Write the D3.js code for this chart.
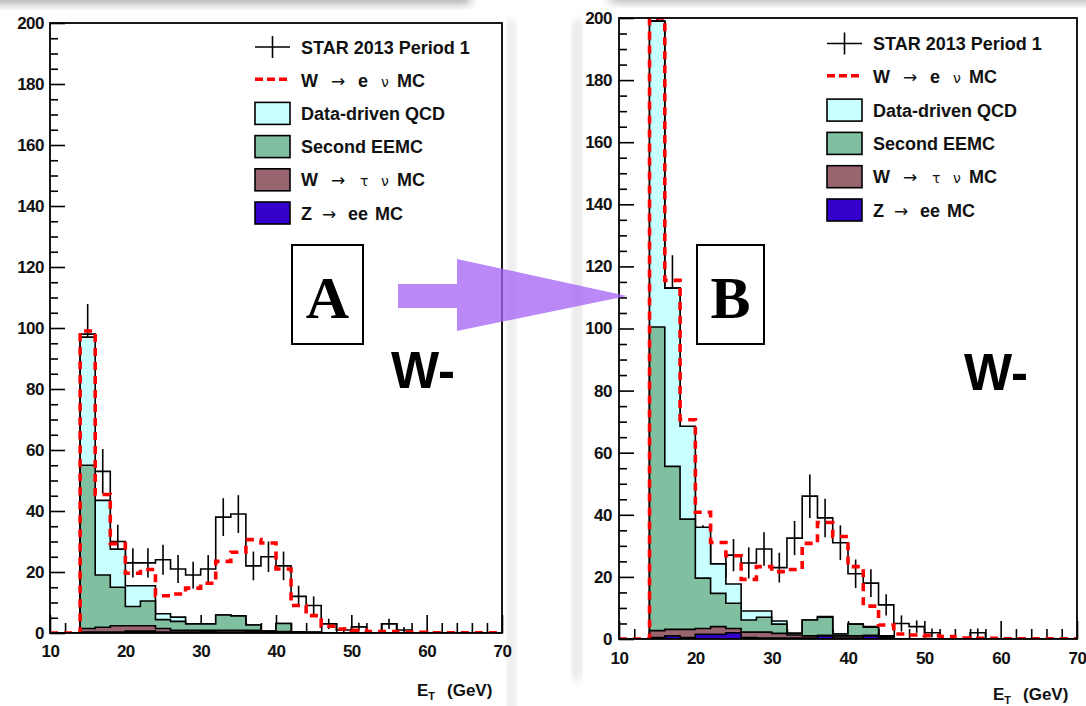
<!DOCTYPE html>
<html>
<head>
<meta charset="utf-8">
<script src="https://cdn.jsdelivr.net/npm/d3@7/dist/d3.min.js"></script>
<style>
  html, body { margin: 0; padding: 0; background: #ffffff; }
  svg { display: block; }
  text { font-family: "Liberation Sans", Arial, Helvetica, sans-serif; }
</style>
</head>
<body>
<svg id="fig" width="1086" height="706"></svg>
<script>
// ---------------------------------------------------------------------------
// Binning: 2 GeV bins from 10 to 70 GeV (lower edges)
const binLow = [10,12,14,16,18,20,22,24,26,28,30,32,34,36,38,40,42,44,46,48,50,52,54,56,58,60,62,64,66,68];
const binWidth = 2;

const xMajorTicks = [10,20,30,40,50,60,70];
const xMinorTicks = [12,14,16,18,22,24,26,28,32,34,36,38,42,44,46,48,52,54,56,58,62,64,66,68];
const yMajorTicks = [0,20,40,60,80,100,120,140,160,180,200];
const yMinorTicks = [5,10,15,25,30,35,45,50,55,65,70,75,85,90,95,105,110,115,125,130,135,145,150,155,165,170,175,185,190,195];

const legendNames = ["STAR 2013 Period 1", "W → e ν MC", "Data-driven QCD", "Second EEMC", "W → τ ν MC", "Z → ee MC"];
const panelTags = ["A", "B"];
const chargeLabel = "W-";

// ---------------------------------------------------------------------------
// Panel A : events per bin
const dataA    = [0,0,98,53,30,23,23,24,21,19,21,38,39,22,25,22,12,9,3,1,2,0,3,1,0,0,0,0,0,0];
const dataErrA = [0,0,9.9,7.3,5.5,4.8,4.8,4.9,4.6,4.4,4.6,6.2,6.2,4.7,5,4.7,3.5,3,1.7,1,1.4,0,1.7,1,0,0,0,0,0,0];
const zeeA     = [0,0,0.3,0.3,0.3,0.6,0.6,0.3,0.3,0.3,0.6,0.3,0.3,0.6,0.3,0.3,0.2,0,0,0,0,0,0,0,0,0,0,0,0,0];
const wtauA    = [0,0,1.2,1.6,2.1,1.8,1.8,1.2,0.6,0.6,0.3,0.6,0.6,0.3,0.2,0.2,0.1,0.2,0.1,0,0,0,0,0,0,0,0,0,0,0];
const eemcA    = [0,0,53.5,17.1,12.6,6.3,8.1,2.9,2.9,2.1,2.1,5.0,4.7,1.7,0.1,2.6,0,0,0,0,0,0,0,0,0,0,0,0,0,0];
const qcdA     = [0,0,42,24.5,12.5,6.8,5,1.9,1.4,0,0,0,0,0,0,0,0,0,0,0,0,0,0,0,0,0,0,0,0,0];
const wenuA    = [0,0,2,1.9,1.8,4.1,5.3,5.9,7.6,11.7,13.3,17.6,20.9,28,28.9,17.9,8.7,5.5,2.1,1.3,0.9,0.5,0.5,0.3,0.2,0.1,0.1,0.1,0.1,0.1];

// Panel B : events per bin
const dataB    = [0,0,199,113,60,31,20,27,24.5,29,23,32.5,46,39,31,21,18,11,5,4,2,0,0,2,0,0,0,0,0,0];
const dataErrB = [0,0,14,10.6,7.7,5.6,4.5,5.2,5,5.4,4.8,5.5,7,6.2,5.6,4.6,4.5,3.4,2.6,2,1.4,0,0,1.4,0,0,0,0,0,0];
const zeeB     = [0,0,0.5,1,0.5,1.5,1.5,2,0.5,0.3,0.3,0.3,0.3,1,0.3,0.3,1,0.3,0,0,0,0,0,0,0,0,0,0,0,0];
const wtauB    = [0,0,2.2,2.1,2.6,1.9,2.5,1.4,1.7,1.9,1.5,1.0,0.7,0.2,0.7,0.7,0.2,0,0,0,0,0,0,0,0,0,0,0,0,0];
const eemcB    = [0,0,97.8,52.5,35.5,16.2,10.7,8.1,3.9,4.8,3.0,0.5,5.1,5.8,0.6,3.8,2.6,0.5,0,0,0,0,0,0,0,0,0,0,0,0];
const qcdB     = [0,0,98.5,57.4,29.9,16.4,9.5,6.2,2.9,2.0,1.0,0,0,0.2,0,0,0.2,0.2,0,0,0,0,0,0,0,0,0,0,0,0];
const wenuB    = [0,0,1,2.5,2.1,4.8,6.9,9.1,10.2,14.3,15.9,20.6,24.7,30.3,31.4,18.5,6.6,3.5,1.6,1.3,1.1,0.8,0.3,0.2,0.2,0.1,0.1,0.1,0.1,0.1];

// ---------------------------------------------------------------------------
const colors = {
  qcd:  "#c8ffff",
  eemc: "#80c0a0",
  wtau: "#996670",
  zee:  "#3300cc",
  wenu: "#ff0000",
  arrow: "rgb(164,96,245)"
};

const svg = d3.select("#fig");
const defs = svg.append("defs");

// soft shadows of the slide cards
const blur = defs.append("filter").attr("id", "soft").attr("x", "-50%").attr("y", "-50%").attr("width", "200%").attr("height", "200%");
blur.append("feGaussianBlur").attr("stdDeviation", 5);

const shadows = svg.append("g").attr("class", "shadows");
shadows.append("rect").attr("x", -20).attr("y", -8).attr("width", 490).attr("height", 12)
  .attr("fill", "#6a6a6a").attr("opacity", 0.55).attr("filter", "url(#soft)");
shadows.append("rect").attr("x", 610).attr("y", -9).attr("width", 500).attr("height", 11)
  .attr("fill", "#6a6a6a").attr("opacity", 0.55).attr("filter", "url(#soft)");
shadows.append("rect").attr("x", 509).attr("y", 20).attr("width", 5).attr("height", 700)
  .attr("fill", "#8a8a8a").attr("opacity", 0.35).attr("filter", "url(#soft)");
shadows.append("rect").attr("x", 574).attr("y", 20).attr("width", 6).attr("height", 660)
  .attr("fill", "#8a8a8a").attr("opacity", 0.35).attr("filter", "url(#soft)");

// ---------------------------------------------------------------------------
function drawPanel(cfg) {
  const x = d3.scaleLinear().domain([10, 70]).range([cfg.left, cfg.right]);
  const y = d3.scaleLinear().domain([0, 200]).range([cfg.bottom, cfg.top]);
  const g = svg.append("g");

  const clipId = "clip" + cfg.tag;
  defs.append("clipPath").attr("id", clipId).append("rect")
    .attr("x", cfg.left).attr("y", cfg.top)
    .attr("width", cfg.right - cfg.left).attr("height", cfg.bottom - cfg.top);

  // white plot area
  g.append("rect").attr("x", cfg.left).attr("y", cfg.top)
    .attr("width", cfg.right - cfg.left).attr("height", cfg.bottom - cfg.top)
    .attr("fill", "#ffffff");

  // axes: ticks point into the frame, as in ROOT
  const yAxis = d3.axisLeft(y).tickValues(yMajorTicks).tickSize(-15).tickPadding(cfg.yPad)
    .tickFormat(d3.format("d"));
  const yMinor = d3.axisLeft(y).tickValues(yMinorTicks).tickSize(-8).tickFormat("");
  const xAxis = d3.axisBottom(x).tickValues(xMajorTicks).tickSize(-18).tickPadding(cfg.xPad)
    .tickFormat(d3.format("d"));
  const xMinor = d3.axisBottom(x).tickValues(xMinorTicks).tickSize(-10).tickFormat("");

  function styleAxis(sel) {
    sel.select(".domain").remove();
    sel.selectAll(".tick line").attr("stroke", "#000").attr("stroke-width", 1.6);
    sel.selectAll(".tick text").attr("fill", "#111")
      .style("font-family", "'Liberation Sans', Arial, sans-serif")
      .style("font-size", "17px").style("font-weight", "bold")
      .attr("letter-spacing", "-0.5");
  }
  g.append("g").attr("transform", `translate(${cfg.left},0)`).call(yAxis).call(styleAxis);
  g.append("g").attr("transform", `translate(${cfg.left},0)`).call(yMinor).call(styleAxis);
  g.append("g").attr("transform", `translate(0,${cfg.bottom})`).call(xAxis).call(styleAxis);
  g.append("g").attr("transform", `translate(0,${cfg.bottom})`).call(xMinor).call(styleAxis);

  const plot = g.append("g").attr("clip-path", `url(#${clipId})`);

  // step outline of a histogram, starting and ending on the baseline
  function stepPath(vals) {
    const p = d3.path();
    p.moveTo(x(binLow[0]), y(0));
    vals.forEach((v, i) => {
      p.lineTo(x(binLow[i]), y(v));
      p.lineTo(x(binLow[i] + binWidth), y(v));
    });
    p.lineTo(x(binLow[binLow.length - 1] + binWidth), y(0));
    return p.toString();
  }

  // data histogram (drawn first, the stack is laid over it)
  plot.append("path").attr("d", stepPath(cfg.data))
    .attr("fill", "none").attr("stroke", "#000").attr("stroke-width", 1.6);
  plot.append("g").selectAll("line").data(cfg.data.map((v, i) => ({ v, e: cfg.err[i], c: binLow[i] + binWidth / 2 })).filter(d => d.v > 0))
    .join("line")
    .attr("x1", d => x(d.c)).attr("x2", d => x(d.c))
    .attr("y1", d => y(d.v - d.e)).attr("y2", d => y(d.v + d.e))
    .attr("stroke", "#000").attr("stroke-width", 1.6);

  // stacked MC / background contributions
  const rows = binLow.map((lo, i) => ({
    zee: cfg.zee[i], wtau: cfg.wtau[i], eemc: cfg.eemc[i], qcd: cfg.qcd[i], wenu: cfg.wenu[i]
  }));
  const stack = d3.stack().keys(["zee", "wtau", "eemc", "qcd", "wenu"])(rows);
  const cum = {};
  stack.forEach(layer => { cum[layer.key] = layer.map(d => d[1]); });

  ["qcd", "eemc", "wtau", "zee"].forEach(k => {
    plot.append("path").attr("d", stepPath(cum[k]) + "Z")
      .attr("fill", colors[k]).attr("stroke", "#000").attr("stroke-width", 1.6)
      .attr("stroke-linejoin", "miter");
  });

  // W -> e nu on top of the stack
  plot.append("path").attr("d", stepPath(cum.wenu))
    .attr("fill", "none").attr("stroke", colors.wenu).attr("stroke-width", 3.6)
    .attr("stroke-dasharray", "8,6");

  // frame
  g.append("rect").attr("x", cfg.left).attr("y", cfg.top)
    .attr("width", cfg.right - cfg.left).attr("height", cfg.bottom - cfg.top)
    .attr("fill", "none").attr("stroke", "#000").attr("stroke-width", 1.8);

  // legend
  const lg = g.append("g").attr("transform", `translate(${cfg.legX},${cfg.legY})`);
  const rowH = cfg.legRow;
  const txtX = 46;
  // pieces: text, offset, style (b = bold label, a = arrow, g = greek)
  const labelPieces = [
    [["STAR 2013 Period 1", 0, "b"]],
    [["W", 0, "b"], ["→", 30, "a"], ["e", 57, "b"], ["ν", 80, "g"], ["MC", 96, "b"]],
    [["Data-driven QCD", 0, "b"]],
    [["Second EEMC", 0, "b"]],
    [["W", 0, "b"], ["→", 30, "a"], ["τ", 59, "g"], ["ν", 80, "g"], ["MC", 96, "b"]],
    [["Z", 0, "b"], ["→", 21, "a"], ["ee", 47, "b"], ["MC", 74, "b"]]
  ];
  legendNames.forEach((name, i) => {
    const cy = i * rowH;
    const row = lg.append("g").attr("transform", `translate(0,${cy})`);
    if (i === 0) {
      row.append("line").attr("x1", 0).attr("x2", 35).attr("y1", 0).attr("y2", 0).attr("stroke", "#000").attr("stroke-width", 1.6);
      row.append("line").attr("x1", 17.5).attr("x2", 17.5).attr("y1", -11).attr("y2", 11).attr("stroke", "#000").attr("stroke-width", 1.6);
    } else if (i === 1) {
      row.append("line").attr("x1", 0).attr("x2", 32).attr("y1", -1).attr("y2", -1)
        .attr("stroke", colors.wenu).attr("stroke-width", 3.6).attr("stroke-dasharray", "8,4");
    } else {
      const key = ["qcd", "eemc", "wtau", "zee"][i - 2];
      row.append("rect").attr("x", 0).attr("y", -11).attr("width", 35).attr("height", 22)
        .attr("fill", colors[key]).attr("stroke", "#000").attr("stroke-width", 1.6);
    }
    const t = row.append("text").attr("y", 6.5).attr("fill", "#111");
    labelPieces[i].forEach(([s, dx, w]) => {
      const sp = t.append("tspan").attr("x", txtX + dx).text(s);
      if (w === "b") {
        sp.style("font-size", "18px").style("font-weight", "bold");
      } else if (w === "a") {
        sp.style("font-family", "'DejaVu Sans', sans-serif").style("font-size", "17px").style("font-weight", "normal");
      } else {
        sp.style("font-family", "'DejaVu Sans', sans-serif").style("font-size", "14px").style("font-weight", "normal");
      }
    });
    row.append("title").text(name);
  });

  // charge label
  g.append("text").attr("x", cfg.wx).attr("y", cfg.wy).text(chargeLabel)
    .style("font-size", "51px").style("font-weight", "bold").attr("fill", "#000");

  // axis title E_T (GeV)
  const at = g.append("text").attr("x", cfg.tx).attr("y", cfg.ty).attr("fill", "#111")
    .style("font-size", "17px").style("font-weight", "bold");
  at.append("tspan").text("E");
  at.append("tspan").text("T").attr("dy", 4).style("font-size", "11px");
  at.append("tspan").text("(GeV)").attr("x", cfg.tx + 30).attr("dy", -4);

  // panel tag box
  g.append("rect").attr("x", cfg.boxX).attr("y", 245).attr("width", cfg.boxW).attr("height", 99)
    .attr("fill", "#fff").attr("stroke", "#000").attr("stroke-width", 2);
  g.append("text").attr("x", cfg.boxX + cfg.boxW / 2).attr("y", 318).attr("text-anchor", "middle")
    .text(cfg.tag).attr("fill", "#000")
    .style("font-family", "'Liberation Serif', 'Times New Roman', serif")
    .style("font-size", "60px").style("font-weight", "bold");
}

drawPanel({
  tag: panelTags[0], left: 50, right: 502, top: 23, bottom: 633, yPad: 6, xPad: 12,
  data: dataA, err: dataErrA, zee: zeeA, wtau: wtauA, eemc: eemcA, qcd: qcdA, wenu: wenuA,
  legX: 255, legY: 47, legRow: 33.2,
  wx: 391, wy: 388, tx: 417, ty: 696, boxX: 292, boxW: 71
});

drawPanel({
  tag: panelTags[1], left: 619, right: 1077, top: 18, bottom: 639, yPad: 7, xPad: 13,
  data: dataB, err: dataErrB, zee: zeeB, wtau: wtauB, eemc: eemcB, qcd: qcdB, wenu: wenuB,
  legX: 827, legY: 43.5, legRow: 33.3,
  wx: 964, wy: 390, tx: 993, ty: 700, boxX: 697, boxW: 67
});

// arrow from panel A to panel B
svg.append("polygon")
  .attr("points", [[398,284],[457,284],[457,259],[627,296],[457,331],[457,308],[398,308]].map(p => p.join(",")).join(" "))
  .attr("fill", colors.arrow).attr("opacity", 0.75);
</script>
</body>
</html>
